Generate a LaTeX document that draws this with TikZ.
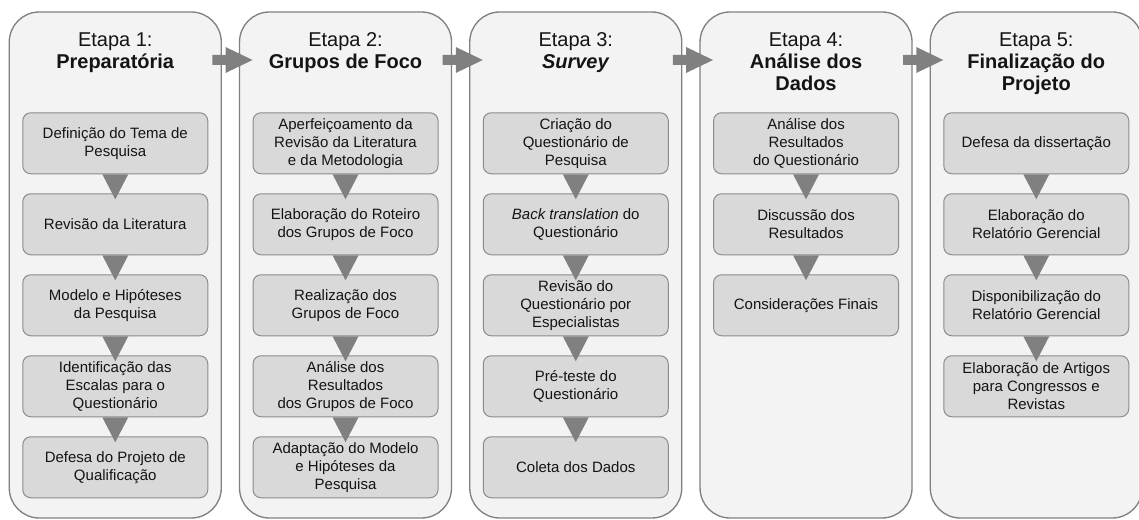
\documentclass[tikz,border=0pt]{standalone}
\usepackage{fontspec}
\setmainfont{Liberation Sans}
\usetikzlibrary{positioning,fit,calc,backgrounds}
\definecolor{panelfill}{RGB}{243,243,243}
\definecolor{panelline}{RGB}{128,128,128}
\definecolor{taskfill}{RGB}{217,217,217}
\definecolor{taskline}{RGB}{140,140,140}
\definecolor{arrowgray}{RGB}{128,128,128}
\definecolor{textcol}{RGB}{20,20,20}
\begin{document}
\begin{tikzpicture}[x=0.75pt,y=-0.75pt,
task/.style={
% The shape:
rectangle,
rounded corners=6pt,
draw=taskline,
fill=taskfill,
line width=0.75pt,
minimum width=138.75pt,
minimum height=45.75pt,
inner sep=2pt,
align=center,
text=textcol,
font=\fontsize{11.25}{13.5}\selectfont
},
stage/.style={
anchor=north,
inner sep=0pt,
align=center,
text=textcol,
font=\fontsize{15}{16.5}\selectfont
},
panel/.style={
rectangle,
rounded corners=22.5pt,
draw=panelline,
fill=panelfill,
line width=1pt,
inner xsep=9.75pt,
inner ysep=0pt,
outer sep=0pt
},
down tri/.style={draw=none, fill=arrowgray,
to path={([xshift=-9.75pt]\tikztostart.south) -- ([xshift=9.75pt]\tikztostart.south) -- ([yshift=-4.5pt]\tikztotarget.north) -- cycle}},
stage arrow/.style={draw=none, fill=arrowgray,
to path={let \p1=(\tikztostart.north east), \p2=(\tikztotarget.north west) in
(\x1-6.75pt,\y1-32.25pt) -- (\x2-10.5pt,\y1-32.25pt) -- (\x2-10.5pt,\y1-26.25pt) -- (\x2+9.75pt,\y1-36pt)
-- (\x2-10.5pt,\y1-45.75pt) -- (\x2-10.5pt,\y1-39.75pt) -- (\x1-6.75pt,\y1-39.75pt) -- cycle}}
]
\useasboundingbox (0,0) rectangle (1139,520);
\matrix (m) [matrix anchor=north west, row sep=14.25pt, column sep=33.19pt, inner sep=0pt] at (22,112) {
% First row:
\node (tema) [task] {Definição do Tema de\\Pesquisa}; &
\node (aperf) [task] {Aperfeiçoamento da\\Revisão da Literatura\\e da Metodologia}; &
\node (criacao) [task] {Criação do\\Questionário de\\Pesquisa}; &
\node (analq) [task] {Análise dos\\Resultados\\do Questionário}; &
\node (defesa) [task] {Defesa da dissertação}; \\
% Second row:
\node (revisao) [task] {Revisão da Literatura}; &
\node (roteiro) [task] {Elaboração do Roteiro\\dos Grupos de Foco}; &
\node (backtr) [task] {\textit{Back translation} do\\Questionário}; &
\node (discuss) [task] {Discussão dos\\Resultados}; &
\node (elabrel) [task] {Elaboração do\\Relatório Gerencial}; \\
% Third row:
\node (modelo) [task] {Modelo e Hipóteses\\da Pesquisa}; &
\node (realiz) [task] {Realização dos\\Grupos de Foco}; &
\node (revesp) [task] {Revisão do\\Questionário por\\Especialistas}; &
\node (consid) [task] {Considerações Finais}; &
\node (disprel) [task] {Disponibilização do\\Relatório Gerencial}; \\
% Fourth row:
\node (escalas) [task] {Identificação das\\Escalas para o\\Questionário}; &
\node (analgf) [task] {Análise dos\\Resultados\\dos Grupos de Foco}; &
\node (preteste) [task] {Pré-teste do\\Questionário}; & &
\node (artigos) [task] {Elaboração de Artigos\\para Congressos e\\Revistas}; \\
% Fifth row:
\node (qualif) [task] {Defesa do Projeto de\\Qualificação}; &
\node (adapt) [task] {Adaptação do Modelo\\e Hipóteses da\\Pesquisa}; &
\node (coleta) [task] {Coleta dos Dados}; & & \\
};
% stage panels behind the tasks
\begin{scope}[on background layer]
\node (col1) [panel, fit={(tema.west |- 0,12) (tema.east |- 0,518)}] {};
\node (col2) [panel, fit={(aperf.west |- 0,12) (aperf.east |- 0,518)}] {};
\node (col3) [panel, fit={(criacao.west |- 0,12) (criacao.east |- 0,518)}] {};
\node (col4) [panel, fit={(analq.west |- 0,12) (analq.east |- 0,518)}] {};
\node (col5) [panel, fit={(defesa.west |- 0,12) (defesa.east |- 0,518)}] {};
\end{scope}
\node (etapa1) [stage] at (tema |- 0,32) {Etapa 1:\\\textbf{Preparatória}};
\node (etapa2) [stage] at (aperf |- 0,32) {Etapa 2:\\\textbf{Grupos de Foco}};
\node (etapa3) [stage] at (criacao |- 0,32) {Etapa 3:\\\textbf{\textit{Survey}}};
\node (etapa4) [stage] at (analq |- 0,32) {Etapa 4:\\\textbf{Análise dos}\\\textbf{Dados}};
\node (etapa5) [stage] at (defesa |- 0,32) {Etapa 5:\\\textbf{Finalização do}\\\textbf{Projeto}};
\path (col1) edge[stage arrow] (col2) (col2) edge[stage arrow] (col3) (col3) edge[stage arrow] (col4) (col4) edge[stage arrow] (col5);
\path (tema) edge[down tri] (revisao) (revisao) edge[down tri] (modelo) (modelo) edge[down tri] (escalas) (escalas) edge[down tri] (qualif);
\path (aperf) edge[down tri] (roteiro) (roteiro) edge[down tri] (realiz) (realiz) edge[down tri] (analgf) (analgf) edge[down tri] (adapt);
\path (criacao) edge[down tri] (backtr) (backtr) edge[down tri] (revesp) (revesp) edge[down tri] (preteste) (preteste) edge[down tri] (coleta);
\path (analq) edge[down tri] (discuss) (discuss) edge[down tri] (consid);
\path (defesa) edge[down tri] (elabrel) (elabrel) edge[down tri] (disprel) (disprel) edge[down tri] (artigos);
\end{tikzpicture}
\end{document}
